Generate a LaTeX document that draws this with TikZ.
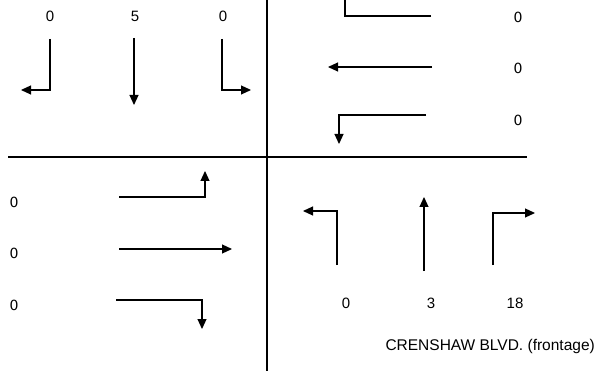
\documentclass[tikz,border=0pt]{standalone}
\usepackage{fontspec}
\setmainfont{Liberation Sans}
\newfontfamily\altfont{DejaVu Sans}
\usetikzlibrary{arrows.meta}
\tikzset{
  sep/.style={line width=2pt},
  mv/.style={line width=1.1pt,-{Triangle[length=10pt,width=9pt]}},
  mvline/.style={line width=1.1pt},
  num/.style={inner sep=0pt,font=\fontsize{15}{18}\selectfont},
  numalt/.style={inner sep=0pt,font=\altfont\fontsize{14}{17}\selectfont},
  street/.style={inner sep=0pt,font=\fontsize{15.5}{18}\selectfont},
}
\begin{document}
\begin{tikzpicture}[x=1pt,y=-1pt]
\useasboundingbox (0,0) rectangle (596,371);
% separators
\coordinate (vt) at (267,0); \coordinate (vb) at (267,371);
\coordinate (hl) at (8,157); \coordinate (hr) at (527,157);
\draw[sep] (vt) -- (vb);
\draw[sep] (hl) -- (hr);
% top-left (southbound)
\node[num] (n1) at (50,16) {0};
\node[num] (n2) at (135,16) {5};
\node[num] (n3) at (223,16) {0};
\coordinate (a1s) at (50,39); \coordinate (a1c) at (50,90); \coordinate (a1e) at (21,90);
\draw[mv] (a1s) -- (a1c) -- (a1e);
\coordinate (a2s) at (134,38); \coordinate (a2e) at (134,105);
\draw[mv] (a2s) -- (a2e);
\coordinate (a3s) at (222,39); \coordinate (a3c) at (222,90); \coordinate (a3e) at (251,90);
\draw[mv] (a3s) -- (a3c) -- (a3e);
% top-right (westbound)
\node[numalt] (n4) at (518,17) {0};
\node[numalt] (n5) at (518,68) {0};
\node[numalt] (n6) at (518,120) {0};
\coordinate (b1s) at (431,16); \coordinate (b1c) at (345,16); \coordinate (b1e) at (345,0);
\draw[mvline] (b1s) -- (b1c) -- (b1e);
\coordinate (b2s) at (432,67); \coordinate (b2e) at (328,67);
\draw[mv] (b2s) -- (b2e);
\coordinate (b3s) at (426,115); \coordinate (b3c) at (339,115); \coordinate (b3e) at (339,144);
\draw[mv] (b3s) -- (b3c) -- (b3e);
% bottom-left (eastbound)
\node[numalt] (n7) at (14,202) {0};
\node[numalt] (n8) at (14,253) {0};
\node[numalt] (n9) at (14,305) {0};
\coordinate (c1s) at (119,197); \coordinate (c1c) at (205,197); \coordinate (c1e) at (205,171);
\draw[mv] (c1s) -- (c1c) -- (c1e);
\coordinate (c2s) at (119,249); \coordinate (c2e) at (232,249);
\draw[mv] (c2s) -- (c2e);
\coordinate (c3s) at (116,300); \coordinate (c3c) at (202,300); \coordinate (c3e) at (202,329);
\draw[mv] (c3s) -- (c3c) -- (c3e);
% bottom-right (northbound)
\coordinate (d1s) at (337,265); \coordinate (d1c) at (337,211); \coordinate (d1e) at (303,211);
\draw[mv] (d1s) -- (d1c) -- (d1e);
\coordinate (d2s) at (424,271); \coordinate (d2e) at (424,197);
\draw[mv] (d2s) -- (d2e);
\coordinate (d3s) at (493,265); \coordinate (d3c) at (493,213); \coordinate (d3e) at (535,213);
\draw[mv] (d3s) -- (d3c) -- (d3e);
\node[num] (n10) at (346,303) {0};
\node[num] (n11) at (431,303) {3};
\node[num] (n12) at (515,303) {18};
\node[street,anchor=east] (streetname) at (595,346) {CRENSHAW BLVD. (frontage)};
\end{tikzpicture}
\end{document}
